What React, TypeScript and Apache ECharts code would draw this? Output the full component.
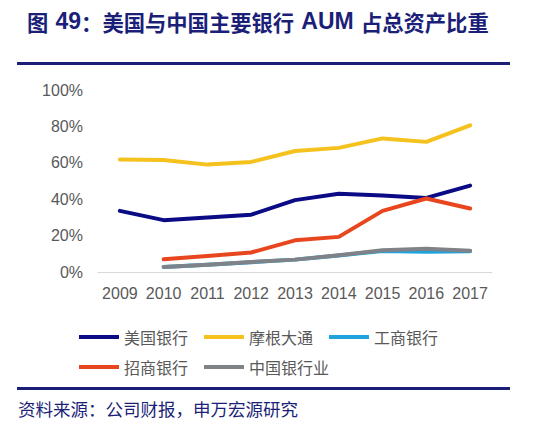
import { useEffect, useRef } from "react";
import * as echarts from "echarts";

const years = ["2009", "2010", "2011", "2012", "2013", "2014", "2015", "2016", "2017"];
const boaShare = [33.6, 28.5, 30.0, 31.5, 39.5, 43.0, 42.0, 40.7, 47.5];
const jpmShare = [61.8, 61.5, 59.0, 60.5, 66.5, 68.2, 73.4, 71.5, 80.6];
const icbcShare = [null, 2.8, 4.0, 5.4, 6.8, 9.1, 11.6, 11.1, 11.4];
const cmbShare = [null, 7.0, 8.8, 10.7, 17.4, 19.3, 33.6, 40.4, 34.9];
const industryShare = [null, 2.8, 4.0, 5.5, 6.8, 9.2, 12.0, 12.8, 11.7];
const yTicks = [0, 20, 40, 60, 80, 100];

const NAVY = "#1b1f78";
const GREY_TEXT = "#595959";
const FONT = "'Noto Sans CJK SC', 'Liberation Sans', sans-serif";
const LATIN = "'Liberation Sans', Arial, sans-serif";

const seriesDefs = [
  { name: "美国银行", color: "#0b0b86", data: boaShare },
  { name: "摩根大通", color: "#f5c11c", data: jpmShare },
  { name: "工商银行", color: "#1fa3dc", data: icbcShare },
  { name: "招商银行", color: "#e8461e", data: cmbShare },
  { name: "中国银行业", color: "#7f8387", data: industryShare },
];

function App() {
  const chartRef = useRef<HTMLDivElement>(null);

  useEffect(() => {
    const chart = echarts.init(chartRef.current, undefined, { renderer: "svg" });
    const legendBase = {
      left: 74,
      itemWidth: 40,
      itemHeight: 4,
      itemGap: 16,
      icon: "rect",
      orient: "horizontal" as const,
      textStyle: { fontSize: 16, color: GREY_TEXT, fontFamily: FONT },
    };
    chart.setOption({
      animation: false,
      backgroundColor: "#ffffff",
      textStyle: { fontFamily: FONT },
      title: {
        left: 22,
        top: 3,
        text: "{c|图}{s| }{l|49}{c|：美国与中国主要银行}{s| }{l|AUM}{s| }{c|占总资产比重}",
        textStyle: {
          rich: {
            c: { fontSize: 21.3, fontWeight: "bold", color: NAVY, fontFamily: FONT },
            l: { fontSize: 23, fontWeight: "bold", color: NAVY, fontFamily: LATIN },
            s: { fontSize: 26, color: NAVY, fontFamily: LATIN },
          },
        },
      },
      legend: [
        { ...legendBase, top: 324, data: seriesDefs.slice(0, 3).map((s) => s.name) },
        { ...legendBase, top: 354, data: seriesDefs.slice(3).map((s) => s.name) },
      ],
      grid: { left: 98, right: 58, top: 90, bottom: 149, containLabel: false },
      xAxis: {
        type: "category",
        data: years,
        boundaryGap: true,
        axisLine: { lineStyle: { color: "#d9d9d9", width: 1 } },
        axisTick: { show: false },
        axisLabel: { interval: 0, color: GREY_TEXT, fontSize: 16, margin: 13, fontFamily: LATIN },
      },
      yAxis: {
        type: "value",
        min: yTicks[0],
        max: yTicks[yTicks.length - 1],
        interval: 20,
        axisLine: { show: false },
        axisTick: { show: false },
        splitLine: { show: false },
        axisLabel: {
          color: GREY_TEXT,
          fontSize: 16,
          margin: 15,
          fontFamily: LATIN,
          formatter: (v: number) => `${v}%`,
        },
      },
      series: seriesDefs.map((s) => ({
        name: s.name,
        type: "line",
        data: s.data,
        symbol: "none",
        color: s.color,
        lineStyle: { width: 4, color: s.color, cap: "round", join: "round" },
      })),
      graphic: [
        {
          type: "rect",
          left: 17,
          top: 62,
          shape: { width: 493, height: 3 },
          style: { fill: NAVY },
        },
        {
          type: "rect",
          left: 17,
          top: 387,
          shape: { width: 493, height: 3 },
          style: { fill: NAVY },
        },
        {
          type: "text",
          left: 18,
          top: 400,
          style: {
            text: "资料来源：公司财报，申万宏源研究",
            fill: NAVY,
            fontSize: 17.5,
            fontFamily: FONT,
          },
        },
      ],
    });
    return () => {
      chart.dispose();
    };
  }, []);

  return (
    <div style={{ position: "fixed", left: 0, top: 0, width: 550, height: 421, background: "#fff" }}>
      <div ref={chartRef} style={{ width: 550, height: 421 }} />
    </div>
  );
}

export default App;
